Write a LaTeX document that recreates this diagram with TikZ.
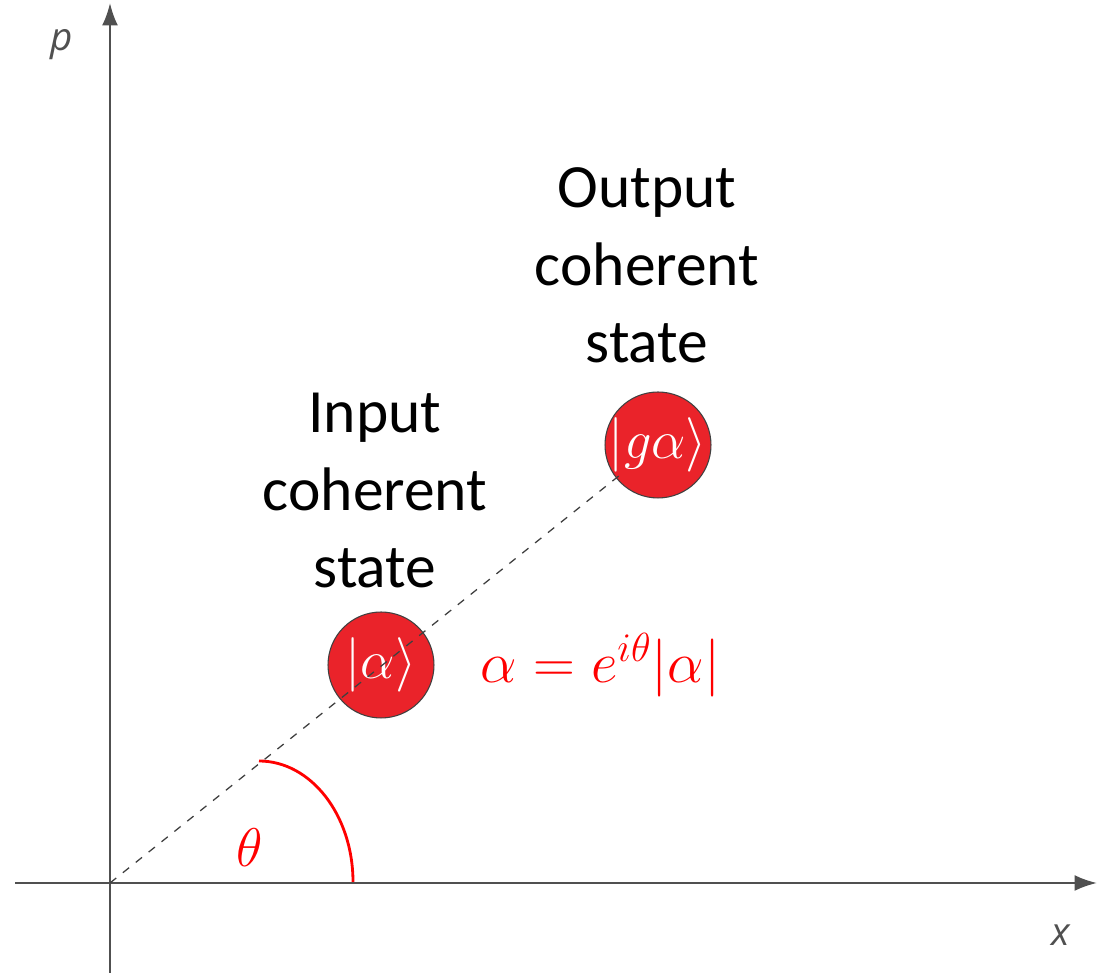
\RequirePackage{fix-cm}
\documentclass[tikz,border=0pt]{standalone}
\usepackage{fontspec}
\setmainfont{Carlito}
\newfontfamily\axisfont{Open Sans}
\usepackage{xcolor}
\usetikzlibrary{arrows.meta, positioning, calc}
\definecolor{statered}{RGB}{234,35,42}
\definecolor{axisgrey}{RGB}{80,80,80}
\tikzset{
  axis/.style={-{Latex[length=0.45cm, width=0.32cm]}, line width=1.3pt, draw=axisgrey},
  statedot/.style={circle, draw=black!75, line width=0.6pt, fill=statered,
                   minimum size=2.12cm, inner sep=-2pt, text=white,
                   font=\fontsize{31}{35}\selectfont},
  phaseline/.style={dashed, dash pattern=on 0.16cm off 0.17cm, line width=0.75pt, black!75},
  statelabel/.style={align=center, font=\fontsize{35}{44}\selectfont},
  axislabel/.style={font=\axisfont\itshape\fontsize{22}{26}\selectfont, text=axisgrey},
  redmath/.style={text=red, font=\fontsize{33}{37}\selectfont},
}

\begin{document}
\begin{tikzpicture}[x=0.02cm, y=0.02cm]
\useasboundingbox (0,0) rectangle (1109,973);

% ── 坐标轴 ─────────────────────────────────────────────────
\coordinate (o) at (110,90);
\coordinate (xl) at (15,90);
\coordinate (xr) at (1097,90);
\coordinate (yb) at (110,0);
\coordinate (yt) at (110,970);
\draw[axis] (xl) -- (xr);
\draw[axis] (yb) -- (yt);
\node[axislabel] (plab) at (62,928) {p};
\node[axislabel] (xlab) at (1061,38) {x};

% ── 相干态 ─────────────────────────────────────────────────
\node[statedot] (inp) at (381,308) {$|\alpha\rangle$};
\node[statedot] (outp) at (658,528) {$|g\alpha\rangle$};

% 虚线：原点 → 输出态
\coordinate (tip) at (620,498);
\draw[phaseline] (o) -- (tip);

% ── 角度 θ ─────────────────────────────────────────────────
\coordinate (arcstart) at (259,212);
\draw[red, line width=1.6pt] (arcstart) arc[start angle=90, end angle=0,
  x radius=94, y radius=121];
\node[redmath, font=\fontsize{31}{35}\selectfont] (theta) at (250,125) {$\theta$};

% ── 文字标注 ───────────────────────────────────────────────
\node[redmath, right=0.8cm of inp] (eq)
  {$\alpha = e^{i\theta}|\alpha|$};
\node[statelabel, above=0.35cm of inp, xshift=-0.12cm] (inlab)
  {Input\\coherent\\state};
\node[statelabel, above=0.45cm of outp, xshift=-0.22cm] (outlab)
  {Output\\coherent\\state};

\end{tikzpicture}
\end{document}
